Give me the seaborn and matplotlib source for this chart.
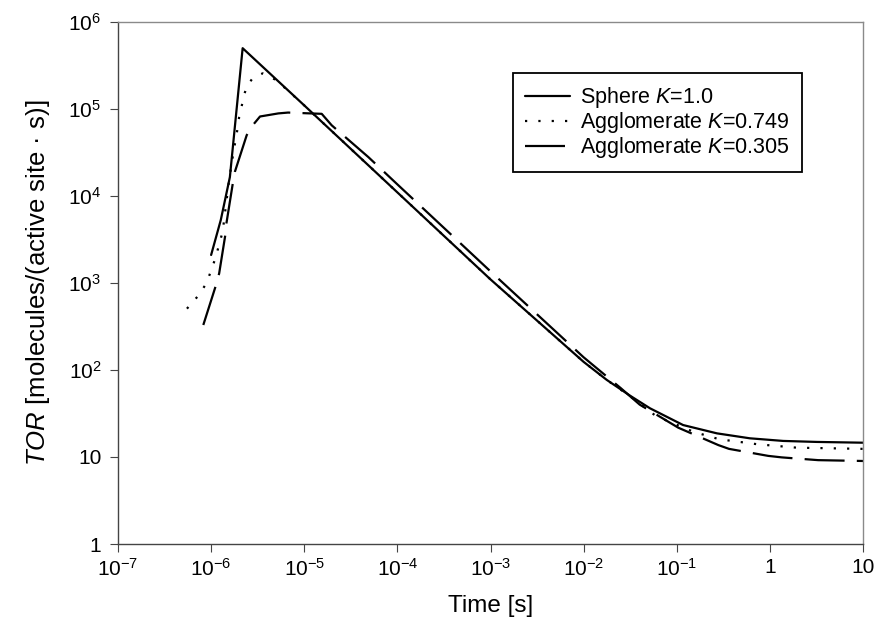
import numpy as np
import pandas as pd
import matplotlib
matplotlib.use("Agg")
import matplotlib.pyplot as plt
import seaborn as sns
from matplotlib.ticker import FixedLocator, NullLocator

# values (log-log)
sphere_t = [1.0e-6, 1.27e-6, 1.59e-6, 2.18e-6, 1e-5, 1e-4, 1e-3, 1e-2, 1.77e-2,
            3.15e-2, 5.16e-2, 0.117, 0.27, 0.61, 1.39, 3.2, 10]
sphere_tor = [2100, 5300, 16500, 5.0e5, 1.1e5, 1.1e4, 1.1e3, 124, 77,
              50.7, 36.3, 23.3, 18.7, 16.4, 15.3, 14.9, 14.6]

agg749_t = [5.5e-7, 7.2e-7, 8.96e-7, 1.0e-6, 1.12e-6, 1.22e-6, 1.33e-6, 1.56e-6,
            1.73e-6, 1.91e-6, 2.0e-6, 2.13e-6, 2.25e-6, 2.47e-6, 2.82e-6, 3.58e-6,
            5e-6, 1e-5, 1e-4, 1e-3, 1e-2, 1.77e-2, 3.15e-2, 6e-2, 0.151, 0.286,
            0.74, 1.94, 10]
agg749_tor = [507, 705, 1000, 1400, 1970, 2790, 3890, 15300,
              31000, 57400, 8.1e4, 1.08e5, 1.45e5, 1.89e5, 2.29e5, 2.57e5,
              2.15e5, 1.1e5, 1.1e4, 1.1e3, 124, 77, 50, 29.5, 19.5, 16.0,
              14.0, 12.8, 12.4]

agg305_t = [8.24e-7, 1.12e-6, 1.22e-6, 1.42e-6, 1.45e-6, 1.71e-6, 1.80e-6, 2.41e-6,
            2.73e-6, 3.35e-6, 5.27e-6, 6.7e-6, 1.54e-5, 1.97e-5, 4.88e-5, 1e-4,
            1e-3, 1e-2, 2.5e-2, 4e-2, 0.104, 0.28, 0.364, 0.96, 1.34, 3.3, 10]
agg305_tor = [329, 924, 1290, 3560, 4640, 1.4e4, 1.9e4, 5.0e4,
              6.3e4, 8.2e4, 8.9e4, 9.1e4, 8.8e4, 6.5e4, 2.8e4, 1.36e4,
              1.36e3, 140, 62, 40, 21.7, 13.7, 12.4, 10.3, 9.9, 9.2, 9.0]

labels = ["Sphere $K$=1.0", "Agglomerate $K$=0.749", "Agglomerate $K$=0.305"]

xticks = [1e-7, 1e-6, 1e-5, 1e-4, 1e-3, 1e-2, 1e-1, 1, 10]
xticklabels = ["$10^{-7}$", "$10^{-6}$", "$10^{-5}$", "$10^{-4}$", "$10^{-3}$",
               "$10^{-2}$", "$10^{-1}$", "1", "10"]
yticks = [1, 10, 1e2, 1e3, 1e4, 1e5, 1e6]
yticklabels = ["1", "10", "$10^{2}$", "$10^{3}$", "$10^{4}$", "$10^{5}$", "$10^{6}$"]

sns.set_style("ticks")
plt.rcParams['font.family'] = ['Liberation Sans', 'DejaVu Sans']
plt.rcParams['mathtext.fontset'] = 'custom'
plt.rcParams['mathtext.rm'] = 'Liberation Sans'
plt.rcParams['mathtext.it'] = 'Liberation Sans:italic'
plt.rcParams['mathtext.bf'] = 'Liberation Sans:bold'
plt.rcParams['text.color'] = 'black'
plt.rcParams['axes.labelcolor'] = 'black'
plt.rcParams['xtick.labelcolor'] = 'black'
plt.rcParams['ytick.labelcolor'] = 'black'

fig = plt.figure(figsize=(8.75, 6.31), dpi=100)
ax = fig.add_axes([118 / 875, 1 - 544 / 631, 745 / 875, 522 / 631])

styles = ["-", (0, (1, 5)), (0, (18, 5.5))]
series = [(sphere_t, sphere_tor), (agg749_t, agg749_tor), (agg305_t, agg305_tor)]
for (t, tor), ls, lab in zip(series, styles, labels):
    sns.lineplot(x=t, y=tor, ax=ax, color="black", lw=1.6, linestyle=ls,
                 label=lab, sort=False, estimator=None)

ax.set(xscale="log", yscale="log")
ax.set_xlim(1e-7, 10)
ax.set_ylim(1, 1e6)
ax.xaxis.set_major_locator(FixedLocator(xticks))
ax.yaxis.set_major_locator(FixedLocator(yticks))
ax.xaxis.set_minor_locator(NullLocator())
ax.yaxis.set_minor_locator(NullLocator())
ax.set_xticklabels(xticklabels)
ax.set_yticklabels(yticklabels)

for side in ["top", "right"]:
    ax.spines[side].set_color("#8a8a8a")
    ax.spines[side].set_linewidth(1.0)
for side in ["left", "bottom"]:
    ax.spines[side].set_color("#444444")
    ax.spines[side].set_linewidth(1.0)

ax.tick_params(axis="x", direction="out", length=6, width=0.8, color="#444444",
               pad=4, labelsize=15)
ax.tick_params(axis="y", direction="out", length=6, width=0.8, color="#444444",
               pad=6, labelsize=15)

ax.set_xlabel("Time [s]", fontsize=17.5, labelpad=11)
ax.set_ylabel("$\\mathit{TOR}$ [molecules/(active site \u00b7 s)]", fontsize=18.5, labelpad=12)

leg = ax.legend(loc="upper right", bbox_to_anchor=(0.918, 0.902), frameon=True,
                fancybox=False, edgecolor="black", framealpha=1, fontsize=15.5,
                handlelength=2.1, handletextpad=0.47, borderpad=0.56,
                labelspacing=0.0, borderaxespad=0)
leg.get_frame().set_linewidth(1.3)

fig.savefig("out.png", dpi=100)
